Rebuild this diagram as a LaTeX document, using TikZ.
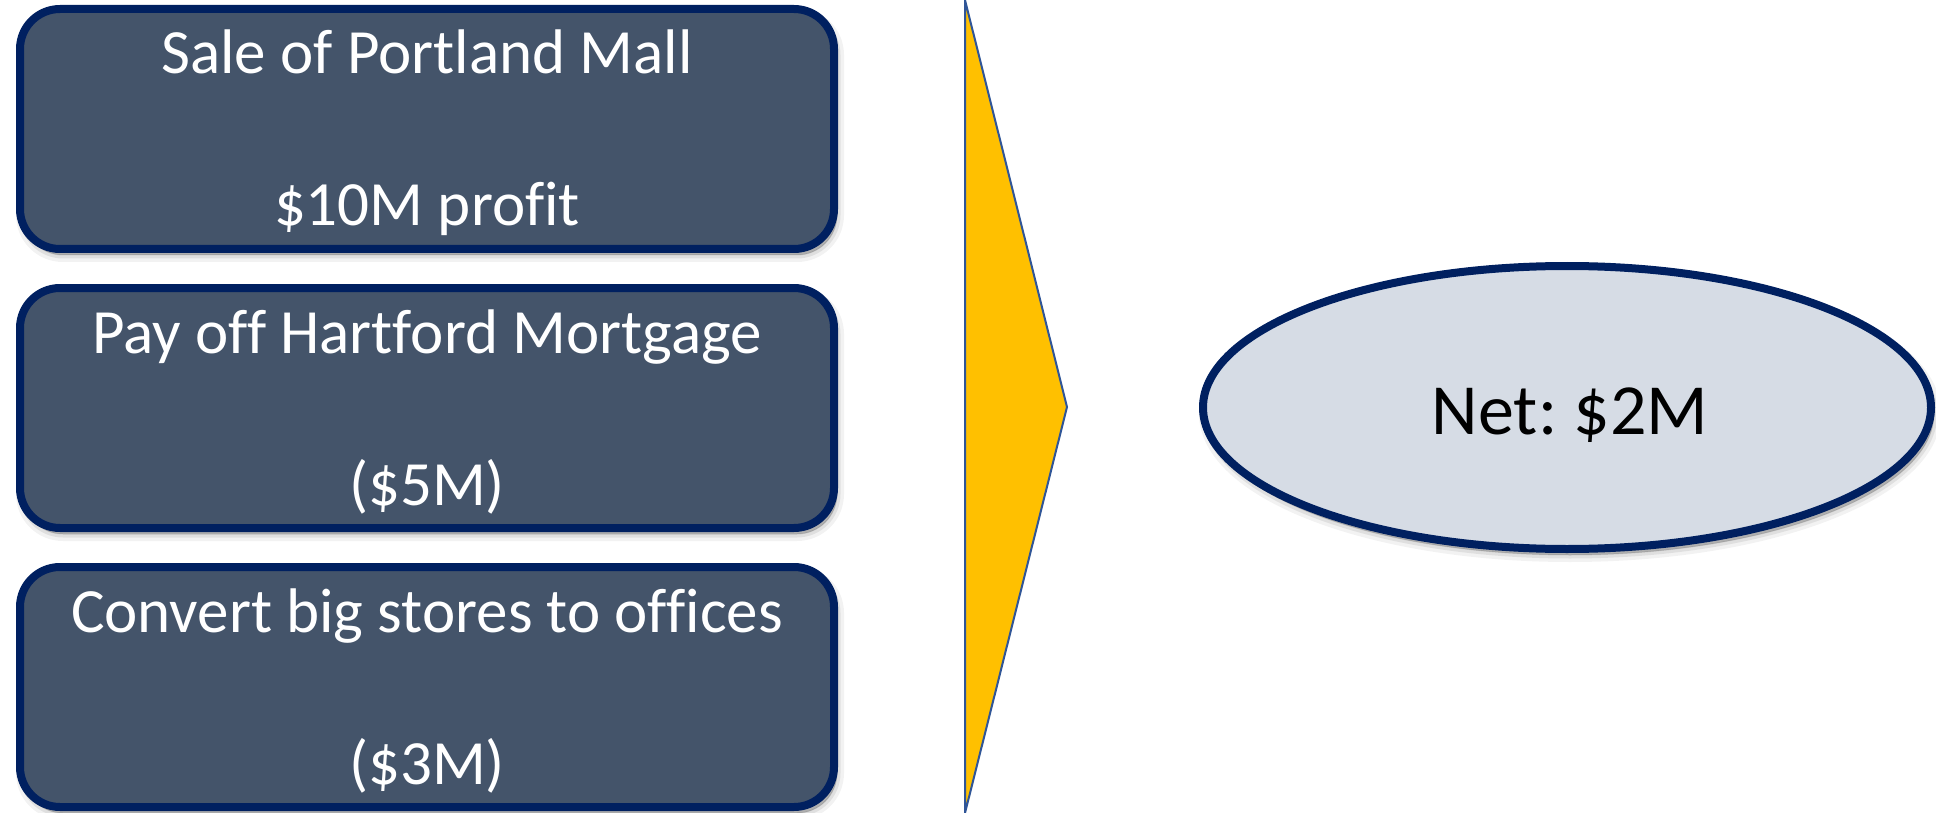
\documentclass[tikz,border=0pt]{standalone}
\usepackage{fontspec}
\setmainfont[Ligatures=NoCommon]{Carlito}
\usetikzlibrary{shadows,shapes.geometric}
\definecolor{slate}{HTML}{44546A}
\definecolor{navy}{HTML}{002060}
\definecolor{gold}{HTML}{FFC000}
\definecolor{edgeblue}{HTML}{2F5597}
\definecolor{mist}{HTML}{D6DCE5}
\frenchspacing
\begin{document}
\begin{tikzpicture}[x=1pt,y=-1pt,
  softshadow/.style={
    drop shadow={shadow xshift=3pt, shadow yshift=-6pt, fill=black, draw=black, opacity=0.05, line width=14pt},
    drop shadow={shadow xshift=3pt, shadow yshift=-6pt, fill=black, draw=black, opacity=0.08, line width=7pt},
    drop shadow={shadow xshift=3pt, shadow yshift=-6pt, fill=black, draw=black, opacity=0.10, line width=1pt}},
  itembox/.style={rectangle, rounded corners=40pt, draw=navy, fill=slate, line width=8pt,
    minimum width=814pt, minimum height=240pt, inner sep=0pt, outer sep=0pt, softshadow},
  itemtext/.style={anchor=base, text=white, inner sep=0pt, font=\fontsize{63}{76}\selectfont},
  result/.style={ellipse, draw=navy, fill=mist, line width=8pt,
    minimum width=728pt, minimum height=283pt, inner sep=0pt, outer sep=0pt, softshadow},
  resulttext/.style={anchor=base, text=black, inner sep=0pt, font=\fontsize{72}{86}\selectfont},
  pointer/.style={fill=gold, draw=edgeblue, line width=2pt, line join=miter}
]
\useasboundingbox (0,0) rectangle (1936,813);

% three line items
\node[itembox] (sale) at (427,129) {};
\node[itembox] (mortgage) at (427,408) {};
\node[itembox] (convert) at (427,687) {};

\node[itemtext] (saleA) at (427,74) {Sale of Portland Mall};
\node[itemtext] (saleB) at (427,226) {\$10M profit};
\node[itemtext] (mortA) at (427,353) {Pay off Hartford Mortgage};
\node[itemtext] (mortB) at (427,505) {(\$5M)};
\node[itemtext] (convA) at (427,632) {Convert big stores to offices};
\node[itemtext] (convB) at (427,784) {(\$3M)};

% pointer
\coordinate (ptop) at (965,0);
\coordinate (ptip) at (1067,407);
\coordinate (pbot) at (965,813);
\draw[pointer] (ptop) -- (ptip) -- (pbot) -- cycle;

% net result
\node[result] (net) at (1567,407.5) {};
\node[resulttext] (netlabel) at (1570,434.6) {Net: \$2M};
\end{tikzpicture}
\end{document}
